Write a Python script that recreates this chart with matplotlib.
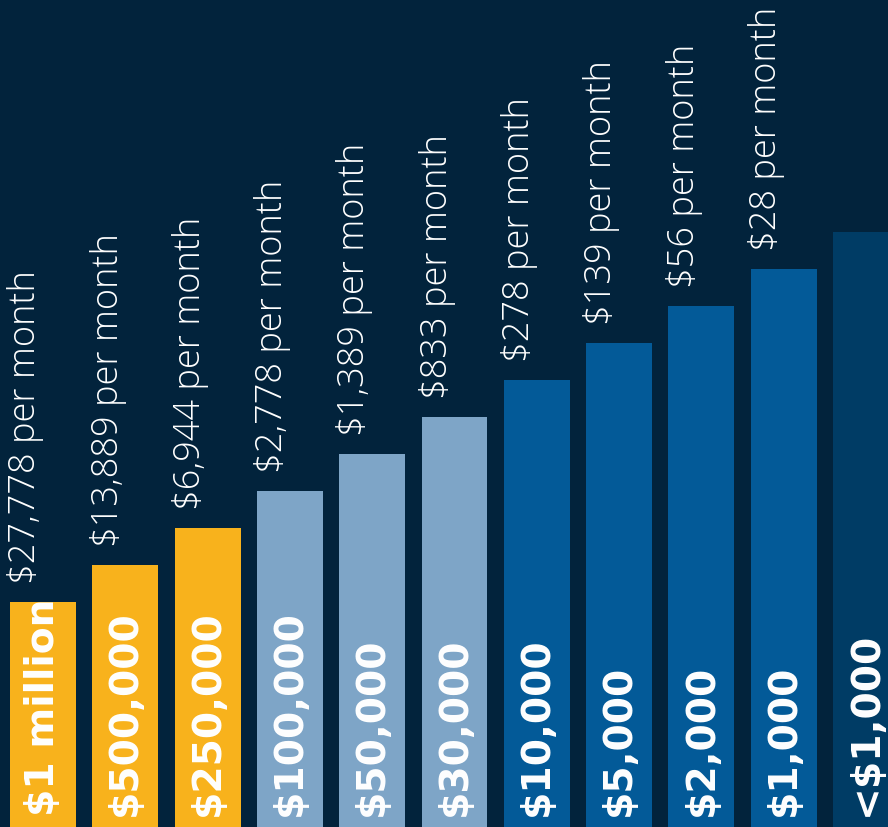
import matplotlib.pyplot as plt

# Bar labels and the staircase heights (same units as the y axis)
amounts = ['$1 million', '$500,000', '$250,000', '$100,000', '$50,000', '$30,000',
           '$10,000', '$5,000', '$2,000', '$1,000', '<$1,000']
monthly = ['$27,778 per month', '$13,889 per month', '$6,944 per month',
           '$2,778 per month', '$1,389 per month', '$833 per month',
           '$278 per month', '$139 per month', '$56 per month', '$28 per month', '']
heights = [225, 262, 299, 336, 373, 410, 447, 484, 521, 558, 595]
colors = ['#f8b21c'] * 3 + ['#7ea5c7'] * 3 + ['#035a98'] * 4 + ['#003c65']

bg = '#02233c'
fig = plt.figure(figsize=(8.88, 8.28), dpi=100, facecolor=bg)
ax = fig.add_axes([0, 0, 1, 1])
ax.set_facecolor(bg)

x = list(range(len(amounts)))
ax.bar(x, heights, width=0.8, color=colors)

for i, h in enumerate(heights):
    # big bold amount inside the bar
    ax.text(i, 12, amounts[i], rotation=90, ha='center', va='bottom',
            color='white', fontsize=28.3, fontweight='bold', family='DejaVu Sans')
    # monthly income above the bar
    if monthly[i]:
        ax.text(i - 0.21, h + 19, monthly[i], rotation=90, ha='center', va='bottom',
                color='white', fontsize=26, fontweight=300, family='Open Sans')

ax.set_xlim(-0.5225, 10.267)
ax.set_ylim(0, 828)
ax.axis('off')

plt.savefig('out.png', dpi=100, facecolor=bg)
